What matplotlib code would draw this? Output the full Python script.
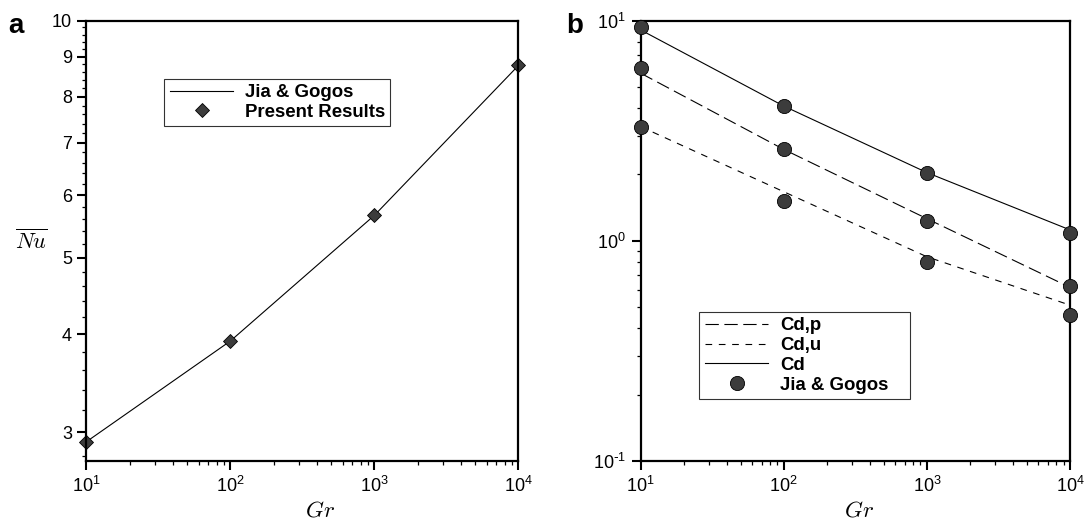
import matplotlib
matplotlib.use("Agg")
import matplotlib.pyplot as plt
from matplotlib.ticker import FixedLocator, FuncFormatter, LogLocator, NullFormatter
import numpy as np

plt.rcParams['font.family'] = ['Liberation Sans', 'DejaVu Sans']

# ---- data ----
gr = [10, 100, 1000, 10000]
# panel a
nu_jia = [2.92, 3.92, 5.66, 8.77]        # line: Jia & Gogos
nu_present = [2.92, 3.92, 5.66, 8.77]    # diamonds: Present Results
# panel b: lines (present)
cd_p_line = [5.77, 2.60, 1.26, 0.614]
cd_u_line = [3.30, 1.67, 0.846, 0.510]
cd_line = [9.07, 4.09, 2.04, 1.12]
# panel b: markers (Jia & Gogos)
cd_jia = [9.33, 4.09, 2.04, 1.08]
cd_p_jia = [6.09, 2.60, 1.23, 0.622]
cd_u_jia = [3.27, 1.51, 0.80, 0.459]

a_yticks = [3, 4, 5, 6, 7, 8, 9, 10]

fig = plt.figure(figsize=(10.89, 5.20), dpi=100)
axa = fig.add_axes([0.0794, 0.1135, 0.3967, 0.847])
axb = fig.add_axes([0.5882, 0.1135, 0.3944, 0.847])

mcol = '#3c3c3c'
tick_fs = 13.0

def pow_fmt(v, pos):
    e = int(round(np.log10(v)))
    if e < 0:
        return r'$\mathregular{10^{\text{-}%d}}$' % (-e)
    return r'$\mathregular{10^{%d}}$' % e

for ax in (axa, axb):
    ax.set_xscale('log')
    ax.set_yscale('log')
    ax.set_xlim(10, 10000)
    for s in ax.spines.values():
        s.set_linewidth(1.6)
    ax.tick_params(which='major', direction='out', length=6.5, width=1.5,
                   labelsize=tick_fs, pad=4)
    ax.tick_params(which='minor', direction='out', length=3.2, width=0.9)
    ax.tick_params(top=False, right=False, which='both')
    ax.xaxis.set_major_locator(FixedLocator(gr))
    ax.xaxis.set_major_formatter(FuncFormatter(pow_fmt))
    ax.xaxis.set_minor_locator(LogLocator(base=10, subs=np.arange(2, 10)))
    ax.xaxis.set_minor_formatter(NullFormatter())

# ---- panel a ----
axa.plot(gr, nu_jia, color='black', lw=0.8, label='Jia & Gogos')
axa.plot(gr, nu_present, ls='none', marker='D', ms=7.3, mfc=mcol, mec='black',
         mew=0.6, label='Present Results', clip_on=False)
axa.set_ylim(2.76, 10)
axa.yaxis.set_major_locator(FixedLocator(a_yticks))
axa.yaxis.set_major_formatter(FuncFormatter(lambda v, p: '%d' % round(v)))
minor_a = [round(v, 1) for v in np.arange(2.8, 10.0, 0.2) if abs(v - round(v)) > 1e-6]
axa.yaxis.set_minor_locator(FixedLocator(minor_a))
axa.yaxis.set_minor_formatter(NullFormatter())
axa.set_xlabel(r'$Gr$', fontsize=16.5, math_fontfamily='cm')
axa.xaxis.set_label_coords(0.54, -0.085)
axa.set_ylabel(r'$\overline{Nu}$', fontsize=16, math_fontfamily='cm', rotation=0)
axa.yaxis.set_label_coords(-0.128, 0.47)
leg_a = axa.legend(loc='upper left', bbox_to_anchor=(0.1806, 0.755, 0.522, 0.113),
                   mode='expand', frameon=True, fancybox=False, edgecolor='black',
                   prop={'weight': 'bold', 'size': 13.4}, handlelength=3.4,
                   handletextpad=0.65, labelspacing=0.12, borderpad=0.3,
                   borderaxespad=0)
leg_a.get_frame().set_linewidth(0.8)
fig.text(0.008, 0.937, 'a', fontsize=20, fontweight='bold')

# ---- panel b ----
axb.plot(gr, cd_p_line, color='black', lw=0.8, dashes=(12, 5), label='Cd,p')
axb.plot(gr, cd_u_line, color='black', lw=0.8, dashes=(6, 6), label='Cd,u')
axb.plot(gr, cd_line, color='black', lw=0.8, label='Cd')
allx = gr * 3
ally = cd_jia + cd_p_jia + cd_u_jia
axb.plot(allx, ally, ls='none', marker='o', ms=10.2, mfc=mcol, mec='black',
         mew=0.6, label='Jia & Gogos', clip_on=False, zorder=5)
axb.set_ylim(0.1, 10)
axb.yaxis.set_major_locator(FixedLocator([0.1, 1, 10]))
axb.yaxis.set_major_formatter(FuncFormatter(pow_fmt))
axb.yaxis.set_minor_locator(LogLocator(base=10, subs=np.arange(2, 10)))
axb.yaxis.set_minor_formatter(NullFormatter())
axb.set_xlabel(r'$Gr$', fontsize=16.5, math_fontfamily='cm')
axb.xaxis.set_label_coords(0.508, -0.085)
leg_b = axb.legend(loc='upper left', bbox_to_anchor=(0.137, 0.141, 0.4905, 0.198),
                   mode='expand', frameon=True, fancybox=False, edgecolor='black',
                   prop={'weight': 'bold', 'size': 13.4}, handlelength=3.4,
                   handletextpad=0.65, labelspacing=0.15, borderpad=0.3,
                   borderaxespad=0)
leg_b.get_frame().set_linewidth(0.8)
fig.text(0.520, 0.937, 'b', fontsize=20, fontweight='bold')

fig.savefig('out.png', dpi=100)
